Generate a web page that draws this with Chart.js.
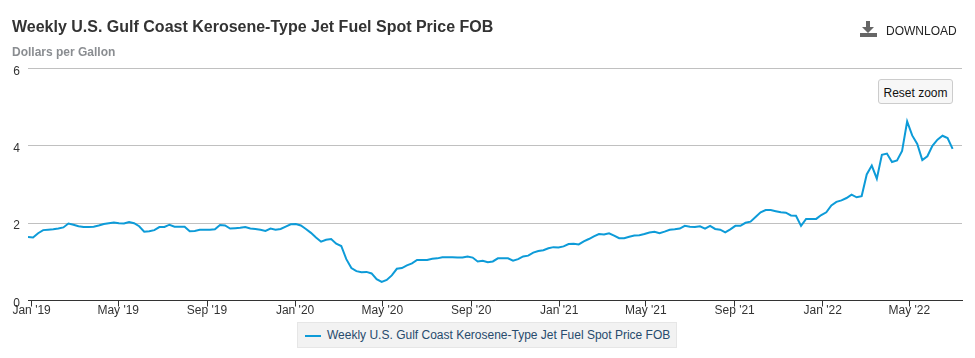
<!DOCTYPE html>
<html lang="en">

<head>
    <meta charset="UTF-8">
    <title>Weekly U.S. Gulf Coast Kerosene-Type Jet Fuel Spot Price FOB</title>
    <script src="https://cdn.jsdelivr.net/npm/chart.js"></script>
    <style>
        html, body { margin: 0; padding: 0; background: #fff; overflow: hidden; }
        body { width: 975px; height: 358px; position: relative; font-family: "Liberation Sans", Arial, sans-serif; }
        canvas { position: absolute; left: 0; top: 0; }
        .abs { position: absolute; white-space: nowrap; }
        #title { left: 12px; top: 17px; font-size: 16px; font-weight: bold; color: #333; line-height: 20px; }
        #subtitle { left: 12px; top: 45px; font-size: 12px; font-weight: bold; color: #8a8d91; line-height: 15px; }
        #download { left: 886px; top: 23px; font-size: 12px; color: #222; line-height: 16px; }
        #icon { left: 859px; top: 21px; }
        #reset { left: 878px; top: 79px; width: 73px; height: 23px; box-sizing: content-box; background: #f7f7f7; border: 1px solid #ccc; border-radius: 3px; font-size: 12px; color: #111; line-height: 26px; text-align: center; }
        #legend { left: 297px; top: 322px; width: 378px; height: 24px; background: #f2f2f2; border: 1px solid #e6e6e6; }
        #legend i { position: absolute; left: 7px; top: 12px; width: 16px; height: 2px; background: #0d9bd8; }
        #legend span { position: absolute; left: 29px; top: 4px; font-size: 12px; color: #274b6d; line-height: 16px; }
    </style>
</head>

<body>
    <canvas id="fuelChart" width="975" height="358"></canvas>
    <div class="abs" id="title"></div>
    <div class="abs" id="subtitle">Dollars per Gallon</div>
    <svg class="abs" id="icon" width="19" height="17" viewBox="0 0 19 17">
        <path d="M7 0h4v6h4l-6 6-6-6h4z" fill="#666"/>
        <rect x="1" y="12" width="17" height="4" fill="#666"/>
    </svg>
    <div class="abs" id="download">DOWNLOAD</div>
    <div class="abs" id="reset">Reset zoom</div>
    <div class="abs" id="legend"><i></i><span></span></div>

    <script>
        const seriesName = 'Weekly U.S. Gulf Coast Kerosene-Type Jet Fuel Spot Price FOB';

        // first weekly observation, one point every 7 days after that
        const firstWeek = '2018-12-27';

        // dollars per gallon
        const prices = [
            1.64, 1.63, 1.74, 1.82, 1.83, 1.84, 1.86, 1.89, 1.99, 1.96,
            1.92, 1.90, 1.90, 1.91, 1.94, 1.98, 2.00, 2.02, 2.00, 1.99,
            2.03, 2.00, 1.92, 1.78, 1.79, 1.82, 1.90, 1.90, 1.96, 1.91,
            1.91, 1.91, 1.79, 1.80, 1.83, 1.83, 1.83, 1.84, 1.95, 1.94,
            1.86, 1.87, 1.88, 1.90, 1.86, 1.85, 1.83, 1.80, 1.86, 1.83,
            1.85, 1.91, 1.97, 1.98, 1.94, 1.85, 1.75, 1.63, 1.52, 1.57,
            1.59, 1.47, 1.41, 1.07, 0.84, 0.76, 0.73, 0.74, 0.70, 0.55,
            0.48, 0.53, 0.65, 0.82, 0.84, 0.91, 0.96, 1.05, 1.05, 1.05,
            1.08, 1.09, 1.12, 1.12, 1.12, 1.11, 1.11, 1.14, 1.11, 1.01,
            1.03, 0.99, 1.01, 1.09, 1.09, 1.09, 1.03, 1.07, 1.14, 1.16,
            1.24, 1.28, 1.30, 1.35, 1.38, 1.37, 1.40, 1.46, 1.47, 1.45,
            1.53, 1.59, 1.66, 1.72, 1.71, 1.74, 1.68, 1.61, 1.61, 1.65,
            1.68, 1.69, 1.72, 1.76, 1.78, 1.74, 1.78, 1.83, 1.84, 1.86,
            1.93, 1.91, 1.90, 1.92, 1.86, 1.93, 1.85, 1.83, 1.76, 1.84,
            1.93, 1.93, 2.01, 2.04, 2.16, 2.28, 2.34, 2.34, 2.31, 2.28,
            2.27, 2.20, 2.19, 1.93, 2.11, 2.11, 2.11, 2.21, 2.28, 2.46,
            2.55, 2.59, 2.65, 2.74, 2.67, 2.70, 3.26, 3.49, 3.15, 3.77,
            3.80, 3.58, 3.62, 3.87, 4.63, 4.27, 4.05, 3.63, 3.73, 4.00,
            4.16, 4.26, 4.20, 3.92
        ];

        const tickDates = ['2019-01-01', '2019-05-01', '2019-09-01', '2020-01-01', '2020-05-01', '2020-09-01',
            '2021-01-01', '2021-05-01', '2021-09-01', '2022-01-01', '2022-05-01'];
        const tickLabels = ["Jan '19", "May '19", "Sep '19", "Jan '20", "May '20", "Sep '20",
            "Jan '21", "May '21", "Sep '21", "Jan '22", "May '22"];
        const yTicks = [0, 2, 4, 6];

        const DAY = 86400000;
        const start = Date.parse(firstWeek);
        const points = prices.map((p, i) => ({ x: start + i * 7 * DAY, y: p }));
        const tickTimes = tickDates.map(d => Date.parse(d));

        document.getElementById('title').textContent = seriesName;
        document.querySelector('#legend span').textContent = seriesName;

        new Chart(document.getElementById('fuelChart'), {
            type: 'line',
            data: {
                datasets: [{
                    label: seriesName,
                    data: points,
                    borderColor: '#0d9bd8',
                    borderWidth: 2,
                    pointRadius: 0,
                    tension: 0
                }]
            },
            options: {
                responsive: false,
                animation: false,
                layout: { padding: { top: 68.5, right: 13 } },
                plugins: { legend: { display: false }, title: { display: false }, tooltip: { enabled: false } },
                font: { family: '"Liberation Sans", Arial, sans-serif' },
                scales: {
                    x: {
                        type: 'linear',
                        min: start,
                        max: start + (prices.length - 1) * 7 * DAY + 13 * DAY,
                        afterBuildTicks: axis => { axis.ticks = tickTimes.map(v => ({ value: v })); },
                        afterFit: axis => { axis.height = 57.5; },
                        grid: { drawOnChartArea: false, drawTicks: true, tickLength: 6, color: '#333' },
                        border: { display: true, color: '#333', width: 1 },
                        ticks: {
                            autoSkip: false,
                            maxRotation: 0,
                            padding: -3,
                            color: '#333',
                            font: { size: 12, family: '"Liberation Sans", Arial, sans-serif' },
                            callback: value => tickLabels[tickTimes.indexOf(value)]
                        }
                    },
                    y: {
                        min: 0,
                        max: 6,
                        afterBuildTicks: axis => { axis.ticks = yTicks.map(v => ({ value: v })); },
                        afterFit: axis => { axis.width = 28; },
                        grid: { color: '#c0c0c0', drawTicks: false },
                        border: { display: false },
                        ticks: {
                            padding: 8,
                            labelOffset: 3,
                            color: '#333',
                            font: { size: 12, family: '"Liberation Sans", Arial, sans-serif' }
                        }
                    }
                }
            }
        });
    </script>
</body>

</html>
